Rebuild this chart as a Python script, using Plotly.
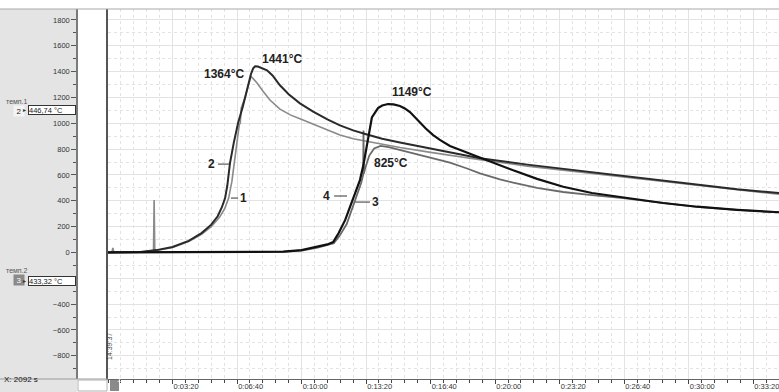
import plotly.graph_objects as go

# ---------------- data (time in s, temperature in °C) ----------------
t1 = [0, 12, 15, 18, 100, 141, 143, 145, 150, 200, 250, 290, 320, 345, 362, 374, 384, 391, 398, 404, 407, 410, 413,
      425, 435, 443, 452, 462, 480, 502, 533, 565, 595, 636, 680, 719, 760, 800, 850, 905, 1000, 1075, 1153, 1300,
      1400, 1500, 1619, 1800, 1950, 2080]
T1 = [0, 2, 35, 2, 3, 10, 405, 12, 15, 38, 84, 140, 200, 270, 340, 421, 550, 692, 820, 940, 990, 1000, 1120,
      1200, 1290, 1364, 1340, 1312, 1250, 1180, 1110, 1065, 1035, 995, 950, 910, 880, 860, 835, 813, 775, 745, 718,
      668, 640, 610, 575, 525, 482, 450]

t2 = [0, 60, 100, 150, 200, 250, 290, 320, 340, 353, 363, 370, 378, 390, 403, 418, 435, 443, 450, 456, 465, 480,
      493, 510, 533, 560, 595, 636, 680, 719, 760, 800, 850, 905, 1000, 1075, 1153, 1300, 1400, 1500, 1619, 1800,
      1950, 2080]
T2 = [0, 2, 4, 18, 42, 90, 150, 215, 280, 350, 421, 520, 690, 850, 1000, 1130, 1300, 1380, 1425, 1441, 1440, 1425,
      1410, 1370, 1294, 1225, 1154, 1090, 1030, 984, 945, 915, 880, 852, 805, 765, 730, 680, 650, 620, 585, 530,
      490, 460]

t3 = [0, 300, 500, 543, 600, 650, 700, 718, 740, 766, 785, 791, 792, 793, 797, 810, 825, 845, 870, 905, 960, 1008,
      1060, 1113, 1153, 1215, 1256, 1330, 1411, 1500, 1597, 1700, 1826, 1950, 2080]
T3 = [0, 1, 3, 5, 15, 38, 72, 130, 220, 400, 540, 600, 945, 610, 650, 750, 805, 825, 815, 793, 760, 731, 695, 650,
      612, 566, 540, 500, 468, 443, 421, 390, 353, 329, 311]

t4 = [0, 300, 500, 543, 600, 648, 680, 698, 715, 735, 760, 781, 792, 800, 808, 818, 837, 850, 868, 885, 905, 920,
      936, 950, 967, 985, 1008, 1030, 1060, 1100, 1153, 1200, 1256, 1330, 1411, 1500, 1619, 1720, 1826, 1950, 2080]
T4 = [0, 1, 3, 6, 18, 42, 62, 80, 150, 250, 420, 560, 680, 800, 930, 1045, 1118, 1138, 1149, 1146, 1134, 1115,
      1087, 1050, 1009, 960, 909, 870, 824, 785, 739, 690, 636, 570, 509, 460, 419, 383, 354, 330, 311]

x_tickvals = [200, 400, 600, 800, 1000, 1200, 1400, 1600, 1800, 2000]
x_ticktext = ["0:03:20", "0:06:40", "0:10:00", "0:13:20", "0:16:40", "0:20:00", "0:23:20", "0:26:40",
              "0:30:00", "0:33:20"]
y_tickvals = [-800, -600, -400, -200, 0, 200, 400, 600, 800, 1000, 1200, 1400, 1600, 1800]

peak_labels = [("1441°C", 540, 1498), ("1364°C", 360, 1382), ("1149°C", 943, 1242), ("825°C", 877, 692)]
curve_labels = [("2", 322, 684, 341, 375), ("1", 419, 421, 381, 403), ("4", 676, 437, 701, 741),
                ("3", 828, 390, 766, 812)]

# ---------------- geometry ----------------
W, H = 779, 392
MT, MB = 9, 13
PH = H - MT - MB


def py(px):
    return (H - MB - px) / PH


def pxx(px):
    return px / W


fig = go.Figure()
fig.add_trace(go.Scatter(x=t1, y=T1, mode="lines", line=dict(color="#8a8a8a", width=1.6), showlegend=False))
fig.add_trace(go.Scatter(x=t3, y=T3, mode="lines", line=dict(color="#6a6a6a", width=1.8), showlegend=False))
fig.add_trace(go.Scatter(x=t2, y=T2, mode="lines", line=dict(color="#2a2a2a", width=2), showlegend=False))
fig.add_trace(go.Scatter(x=t4, y=T4, mode="lines", line=dict(color="#111111", width=2.2), showlegend=False))
# empty trace to carry the left-panel axis
fig.add_trace(go.Scatter(x=[], y=[], yaxis="y2", showlegend=False))

grid_c = "#e3e3e3"
fig.update_layout(
    width=W, height=H,
    margin=dict(l=0, r=0, t=MT, b=MB, pad=0),
    paper_bgcolor="white", plot_bgcolor="white",
    font=dict(family="Liberation Sans, Arial, sans-serif", color="#333"),
    xaxis=dict(domain=[108 / W, 1], range=[0, 2080], tickmode="array", tickvals=x_tickvals, ticktext=x_ticktext,
               ticks="outside", ticklen=4, tickcolor="#444", tickfont=dict(size=7.5, color="#333"),
               ticklabelposition="outside right", ticklabeloverflow="allow",
               showgrid=True, gridcolor=grid_c, gridwidth=1, zeroline=False,
               showline=True, linecolor="#666", linewidth=1.2,
               minor=dict(dtick=40, tick0=0, ticks="outside", ticklen=3, tickcolor="#444",
                          showgrid=True, gridcolor=grid_c, griddash="dot", gridwidth=1)),
    yaxis=dict(range=[-980, 1885], tickmode="array", tickvals=y_tickvals, showticklabels=False, ticks="",
               showgrid=True, gridcolor=grid_c, gridwidth=1, zeroline=False,
               showline=True, linecolor="#555", linewidth=2,
               minor=dict(dtick=100, tick0=0, showgrid=True, gridcolor=grid_c, griddash="dot", gridwidth=1)),
    yaxis2=dict(range=[-980, 1885], overlaying="y", anchor="free", position=77 / W, side="left",
                tickmode="array", tickvals=y_tickvals, ticks="outside", ticklen=5, tickcolor="#555",
                tickfont=dict(size=7.5, color="#333"), showgrid=False, zeroline=False,
                showline=True, linecolor="#7a7a7a", linewidth=1.5,
                minor=dict(dtick=100, tick0=0, ticks="outside", ticklen=3, tickcolor="#555")),
)

shapes = [
    dict(type="rect", xref="paper", yref="paper", x0=0, x1=pxx(77), y0=py(H), y1=py(MT),
         fillcolor="#e4e4e4", line=dict(width=0), layer="below"),
    dict(type="line", xref="paper", yref="paper", x0=0, x1=1, y0=1, y1=1,
         line=dict(color="#a8a8a8", width=1)),
    dict(type="line", xref="paper", yref="paper", x0=0, x1=pxx(108), y0=0, y1=0,
         line=dict(color="#9a9a9a", width=1)),
    dict(type="rect", xref="paper", yref="paper", x0=pxx(78), x1=pxx(107), y0=py(391), y1=py(380),
         fillcolor="white", line=dict(color="#b0b0b0", width=1)),
    dict(type="rect", xref="paper", yref="paper", x0=pxx(110), x1=pxx(119), y0=py(391), y1=py(380),
         fillcolor="#8a8a8a", line=dict(width=0)),
]
for lab, lx, ly, xa, xb in curve_labels:
    shapes.append(dict(type="line", xref="x", yref="y", x0=xa, x1=xb, y0=ly, y1=ly,
                       line=dict(color="#555", width=1.2)))
fig.update_layout(shapes=shapes)

ann = []
for txt, x, y in peak_labels:
    ann.append(dict(x=x, y=y, xref="x", yref="y", text="<b>%s</b>" % txt, showarrow=False,
                    font=dict(size=12, color="#222", family="Liberation Sans, Arial, sans-serif")))
for lab, lx, ly, xa, xb in curve_labels:
    ann.append(dict(x=lx, y=ly, xref="x", yref="y", text="<b>%s</b>" % lab, showarrow=False,
                    font=dict(size=12, color="#222")))

small = dict(size=7, color="#555")
ann += [
    dict(x=pxx(4), y=py(96), xref="paper", yref="paper", text="темп.1", showarrow=False, xanchor="left",
         font=small),
    dict(x=pxx(12.5), y=py(104.5), xref="paper", yref="paper", text="2", showarrow=False,
         font=dict(size=8, color="#222"), bgcolor="#f4f4f4", width=8, height=8),
    dict(x=pxx(21), y=py(104.5), xref="paper", yref="paper", text="▸", showarrow=False,
         font=dict(size=6, color="#333")),
    dict(x=pxx(28), y=py(104.5), xref="paper", yref="paper", text="446,74 °C", showarrow=False,
         xanchor="left", align="left", font=dict(size=7.5, color="#222"), bgcolor="white",
         bordercolor="#333", borderwidth=1, borderpad=0, width=46, height=8),
    dict(x=pxx(4), y=py(276), xref="paper", yref="paper", text="темп.2", showarrow=False, xanchor="left",
         font=small),
    dict(x=pxx(12.5), y=py(285.5), xref="paper", yref="paper", text="3", showarrow=False,
         font=dict(size=8, color="white"), bgcolor="#8a8a8a", width=8, height=8),
    dict(x=pxx(21), y=py(285.5), xref="paper", yref="paper", text="▸", showarrow=False,
         font=dict(size=6, color="#333")),
    dict(x=pxx(28), y=py(285.5), xref="paper", yref="paper", text="433,32 °C", showarrow=False,
         xanchor="left", align="left", font=dict(size=7.5, color="#222"), bgcolor="white",
         bordercolor="#333", borderwidth=1, borderpad=0, width=46, height=8),
    dict(x=pxx(2), y=py(385.5), xref="paper", yref="paper", text="X: 2092 s", showarrow=False,
         xanchor="left", font=dict(size=8, color="#111")),
    dict(x=pxx(104), y=py(362), xref="paper", yref="paper", text="14:39:37", showarrow=False,
         textangle=-90, font=dict(size=7, color="#444")),
    dict(x=pxx(114.5), y=py(385.5), xref="paper", yref="paper", text="1", showarrow=False,
         font=dict(size=8, color="white")),
]
fig.update_layout(annotations=ann)

fig.write_html("out.html", config={"displayModeBar": False},
               post_script="document.body.style.margin='0';document.body.style.overflow='hidden';")
